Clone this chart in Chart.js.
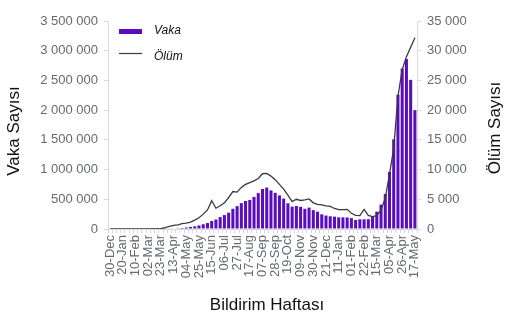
<!DOCTYPE html>
<html>
<head>
<meta charset="utf-8">
<script src="https://cdn.jsdelivr.net/npm/chart.js@4"></script>
<style>
  html, body { margin: 0; padding: 0; background: #fff; }
  #wrap { width: 514px; height: 323px; }
</style>
</head>
<body>
<div id="wrap"><canvas id="chart" width="514" height="323"></canvas></div>
<script>
// weekly reports, Monday of each week
const weeks = [
  '30-Dec', '06-Jan', '13-Jan', '20-Jan', '27-Jan', '03-Feb', '10-Feb', '17-Feb', '24-Feb',
  '02-Mar', '09-Mar', '16-Mar', '23-Mar', '30-Mar', '06-Apr', '13-Apr', '20-Apr', '27-Apr',
  '04-May', '11-May', '18-May', '25-May', '01-Jun', '08-Jun', '15-Jun', '22-Jun', '29-Jun',
  '06-Jul', '13-Jul', '20-Jul', '27-Jul', '03-Aug', '10-Aug', '17-Aug', '24-Aug', '31-Aug',
  '07-Sep', '14-Sep', '21-Sep', '28-Sep', '05-Oct', '12-Oct', '19-Oct', '26-Oct', '02-Nov',
  '09-Nov', '16-Nov', '23-Nov', '30-Nov', '07-Dec', '14-Dec', '21-Dec', '28-Dec', '04-Jan',
  '11-Jan', '18-Jan', '25-Jan', '01-Feb', '08-Feb', '15-Feb', '22-Feb', '01-Mar', '08-Mar',
  '15-Mar', '22-Mar', '29-Mar', '05-Apr', '12-Apr', '19-Apr', '26-Apr', '03-May', '10-May',
  '17-May'
];

const cases = [
  0, 0, 0, 0, 0, 0, 0, 0, 0,
  0, 100, 500, 2000, 5000, 7000, 8000, 12000, 17000,
  25000, 35000, 45000, 60000, 80000, 100000, 135000, 160000, 200000,
  235000, 275000, 340000, 385000, 435000, 471000, 488000, 540000, 605000,
  673000, 698000, 650000, 608000, 565000, 512000, 432000, 376000, 387000,
  372000, 340000, 360000, 318000, 292000, 247000, 226000, 214000, 208000,
  196000, 196000, 194000, 183000, 152000, 163000, 163000, 165000, 215000,
  292000, 410000, 590000, 960000, 1510000, 2260000, 2700000, 2860000, 2510000,
  2000000
];

const deaths = [
  0, 0, 0, 0, 0, 0, 0, 0, 0,
  0, 0, 0, 50, 250, 450, 600, 700, 900,
  1000, 1150, 1500, 1900, 2500, 3200, 4750, 3500, 3900,
  4400, 5300, 6300, 6200, 7000, 7500, 7800, 8100, 8500,
  9300, 9350, 8900, 8300, 7500, 6700, 5700, 4600, 5000,
  4800, 4900, 5050, 4400, 4150, 4050, 3900, 3800, 3450,
  3250, 3250, 3300, 2650, 2300, 2250, 3300, 2300, 2100,
  2250, 3200, 5200, 9200, 13600, 22300, 26800, 29000, 30600,
  32200
];

const seriesNames = ['Vaka', 'Ölüm'];
const axisTitles = ['Vaka Sayısı', 'Ölüm Sayısı', 'Bildirim Haftası'];

const PURPLE = '#5a0dbe';
const LINE = '#3a3a3a';
const TICK = '#666a70';
const AXIS = '#d9d9d9';
const FAMILY = '"Liberation Sans", Arial, sans-serif';

// "3 500 000" style numbers
const fmt = v => String(v).replace(/\B(?=(\d{3})+(?!\d))/g, ' ');

// titles + in-plot legend
const decor = {
  id: 'decor',
  afterDraw(chart) {
    const ctx = chart.ctx;
    const area = chart.chartArea;
    ctx.save();
    ctx.fillStyle = '#111';
    ctx.font = '17px ' + FAMILY;
    ctx.textAlign = 'center';
    ctx.textBaseline = 'middle';

    ctx.save();
    ctx.translate(14, 131);
    ctx.rotate(-Math.PI / 2);
    ctx.fillText(axisTitles[0], 0, 0);
    ctx.restore();

    ctx.save();
    ctx.translate(495, 128);
    ctx.rotate(-Math.PI / 2);
    ctx.fillText(axisTitles[1], 0, 0);
    ctx.restore();

    ctx.fillText(axisTitles[2], 267, 305);

    // legend
    const lx = area.left + 11;
    ctx.fillStyle = PURPLE;
    ctx.fillRect(lx, 29, 23, 5);
    ctx.strokeStyle = LINE;
    ctx.lineWidth = 1.2;
    ctx.beginPath();
    ctx.moveTo(lx, 53.5);
    ctx.lineTo(lx + 23, 53.5);
    ctx.stroke();

    ctx.fillStyle = '#111';
    ctx.font = 'italic 12px ' + FAMILY;
    ctx.textAlign = 'left';
    ctx.fillText(seriesNames[0], lx + 35, 31);
    ctx.fillText(seriesNames[1], lx + 35, 57);
    ctx.restore();
  }
};

new Chart(document.getElementById('chart'), {
  type: 'bar',
  data: {
    labels: weeks,
    datasets: [
      {
        type: 'line', label: seriesNames[1], data: deaths, yAxisID: 'y1',
        borderColor: LINE, borderWidth: 1.3, pointRadius: 0, tension: 0, order: 0
      },
      {
        label: seriesNames[0], data: cases, yAxisID: 'y',
        backgroundColor: PURPLE, barPercentage: 0.72, categoryPercentage: 1, order: 1
      }
    ]
  },
  options: {
    responsive: false,
    animation: false,
    layout: { padding: { top: 21, right: 0, bottom: 0, left: 0 } },
    plugins: { legend: { display: false }, tooltip: { enabled: false } },
    scales: {
      x: {
        grid: { display: true, drawOnChartArea: false, color: AXIS, tickLength: 4 },
        border: { color: AXIS },
        ticks: {
          autoSkip: false, maxRotation: 90, minRotation: 90, padding: 2,
          color: TICK, font: { size: 13, family: FAMILY },
          callback(value, index) { return index % 3 === 0 ? this.getLabelForValue(value) : ''; }
        },
        afterFit(scale) { scale.height = 94; }
      },
      y: {
        position: 'left', min: 0, max: 3500000,
        grid: { drawOnChartArea: false, color: AXIS, tickLength: 4 },
        border: { color: AXIS },
        ticks: {
          stepSize: 500000, padding: 6, color: TICK,
          font: { size: 13, family: FAMILY },
          callback: v => fmt(v)
        },
        afterFit(scale) { scale.width = 108; }
      },
      y1: {
        position: 'right', min: 0, max: 35000,
        grid: { drawOnChartArea: false, color: AXIS, tickLength: 4 },
        border: { color: AXIS },
        ticks: {
          stepSize: 5000, padding: 6, color: TICK,
          font: { size: 13, family: FAMILY },
          callback: v => fmt(v)
        },
        afterFit(scale) { scale.width = 97; }
      }
    }
  },
  plugins: [decor]
});
</script>
</body>
</html>
